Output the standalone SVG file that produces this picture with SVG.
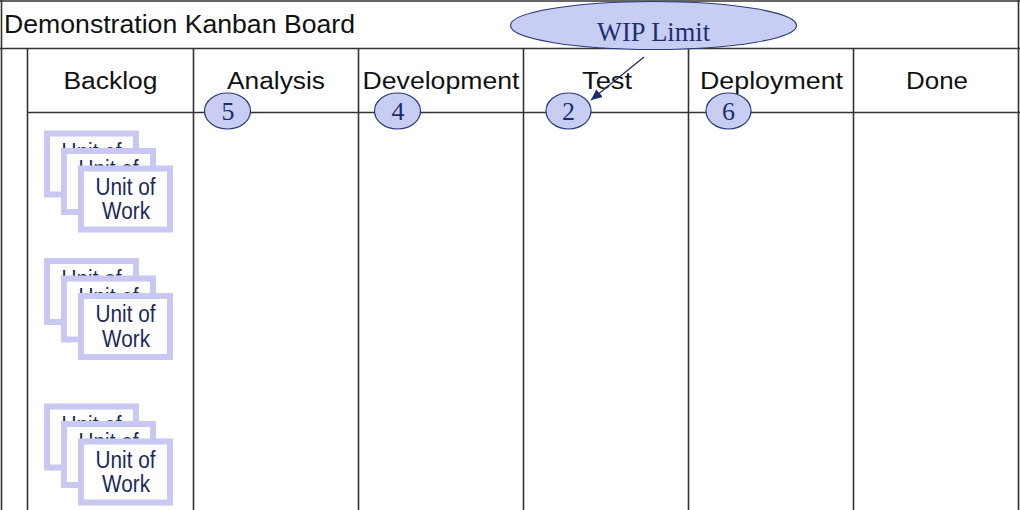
<svg xmlns="http://www.w3.org/2000/svg" width="1020" height="510" viewBox="0 0 1020 510">
<style>
.ln{stroke:#333;stroke-width:1.6;fill:none}
.hd{font-family:"Liberation Sans",Arial,sans-serif;font-size:23px;fill:#111;text-anchor:middle}
.ttl{font-family:"Liberation Sans",Arial,sans-serif;font-size:25px;fill:#111}
.wip{fill:#c8cdf4;stroke:#2a3a72;stroke-width:1.2}
.num{font-family:"Liberation Serif","Times New Roman",serif;font-size:26px;fill:#1f2d66;text-anchor:middle}
.card{fill:#fff;stroke:#c8c8f2;stroke-width:6}
.ct{font-family:"Liberation Sans",Arial,sans-serif;font-size:23px;fill:#1c2a5a;text-anchor:middle}
.wl{font-family:"Liberation Serif","Times New Roman",serif;font-size:28px;fill:#1f2f70;text-anchor:middle}
</style>
<defs>
<marker id="ah" markerUnits="userSpaceOnUse" markerWidth="12" markerHeight="10" refX="11" refY="5" orient="auto">
<path d="M0,0 L11,5 L0,10 z" fill="#1f2f66"/>
</marker>
<g id="card">
<rect class="card" x="3" y="3" width="89" height="61"/>
<text class="ct" x="47.5" y="29" textLength="60" lengthAdjust="spacingAndGlyphs">Unit of</text>
<text class="ct" x="48" y="53.5" textLength="48" lengthAdjust="spacingAndGlyphs">Work</text>
</g>
<g id="stack">
<use href="#card" x="0" y="0"/>
<use href="#card" x="17" y="17.5"/>
<use href="#card" x="34" y="35"/>
</g>
</defs>
<rect x="0" y="0" width="1020" height="510" fill="#fff"/>
<g id="board">
<line class="ln" x1="0" y1="1" x2="1020" y2="1"/>
<line class="ln" x1="1.5" y1="0" x2="1.5" y2="510"/>
<line class="ln" x1="1018.5" y1="0" x2="1018.5" y2="510"/>
<line class="ln" x1="0" y1="48.5" x2="1020" y2="48.5"/>
<line class="ln" x1="27.5" y1="48.5" x2="27.5" y2="510"/>
<line class="ln" x1="27.5" y1="112.5" x2="1020" y2="112.5"/>
<line class="ln" x1="193.5" y1="48.5" x2="193.5" y2="510"/>
<line class="ln" x1="358.5" y1="48.5" x2="358.5" y2="510"/>
<line class="ln" x1="523.5" y1="48.5" x2="523.5" y2="510"/>
<line class="ln" x1="688.5" y1="48.5" x2="688.5" y2="510"/>
<line class="ln" x1="853.5" y1="48.5" x2="853.5" y2="510"/>
<text id="title" class="ttl" x="4" y="33" textLength="351" lengthAdjust="spacingAndGlyphs">Demonstration Kanban Board</text>
</g>
<g id="col-backlog"><text class="hd" x="110.5" y="88.5" textLength="94" lengthAdjust="spacingAndGlyphs">Backlog</text></g>
<g id="col-analysis"><text class="hd" x="276" y="88.5" textLength="98" lengthAdjust="spacingAndGlyphs">Analysis</text></g>
<g id="col-development"><text class="hd" x="441" y="88.5" textLength="157" lengthAdjust="spacingAndGlyphs">Development</text></g>
<g id="col-test"><text class="hd" x="607" y="88.5" textLength="50" lengthAdjust="spacingAndGlyphs">Test</text></g>
<g id="col-deployment"><text class="hd" x="771.5" y="88.5" textLength="143" lengthAdjust="spacingAndGlyphs">Deployment</text></g>
<g id="col-done"><text class="hd" x="937" y="88.5" textLength="62" lengthAdjust="spacingAndGlyphs">Done</text></g>
<g id="connectors">
<line x1="644" y1="57" x2="591" y2="100" stroke="#1f2f66" stroke-width="1.3" marker-end="url(#ah)"/>
</g>
<g id="wip-analysis"><ellipse class="wip" cx="227.5" cy="111" rx="23" ry="18"/><text class="num" x="228" y="120">5</text></g>
<g id="wip-development"><ellipse class="wip" cx="397.5" cy="111" rx="23" ry="18"/><text class="num" x="398" y="120">4</text></g>
<g id="wip-test"><ellipse class="wip" cx="568.5" cy="111" rx="22.5" ry="18"/><text class="num" x="568.5" y="120">2</text></g>
<g id="wip-deployment"><ellipse class="wip" cx="728.5" cy="111" rx="22.5" ry="18"/><text class="num" x="728.5" y="120">6</text></g>
<g id="wip-limit"><ellipse class="wip" cx="653.5" cy="25.5" rx="143" ry="24"/><text class="wl" x="653.5" y="41" textLength="113" lengthAdjust="spacingAndGlyphs">WIP Limit</text></g>
<g id="cards-1"><use href="#stack" x="44" y="130.5"/></g>
<g id="cards-2"><use href="#stack" x="44" y="258"/></g>
<g id="cards-3"><use href="#stack" x="44" y="403.5"/></g>
</svg>
